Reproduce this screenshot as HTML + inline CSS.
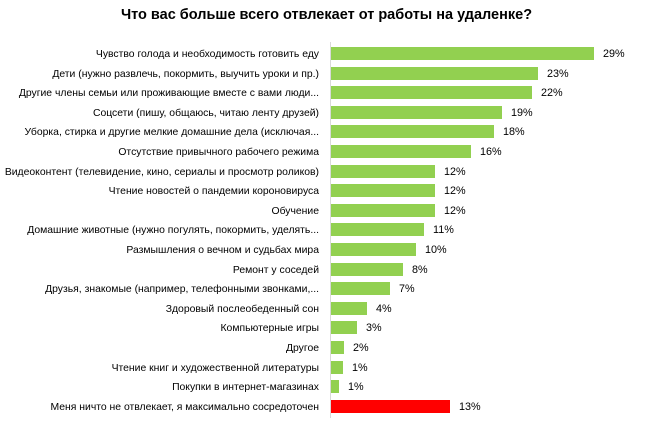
<!DOCTYPE html>
<html><head><meta charset="utf-8"><style>
body{margin:0;background:#fff;width:653px;height:426px;overflow:hidden;position:relative;font-family:"Liberation Sans","DejaVu Sans",sans-serif;}
.t{position:absolute;left:0;width:653px;top:7px;text-align:center;font-weight:bold;font-size:14.5px;color:#000}
.l{position:absolute;right:334px;font-size:10.4px;color:#000;white-space:nowrap;line-height:13px}
.b{position:absolute;left:331px;height:13px;background:#92d050}
.v{position:absolute;font-size:10.8px;color:#000;line-height:13px}
.ax{position:absolute;left:330px;top:42px;width:1px;height:376px;background:#d9d9d9}
</style></head><body>
<div class="t">Что вас больше всего отвлекает от работы на удаленке?</div>
<div class="ax"></div>
<div id="c"></div>
<script>
var d=[["Чувство голода и необходимость готовить еду",594,"29%"],
["Дети (нужно развлечь, покормить, выучить уроки и пр.)",538,"23%"],
["Другие члены семьи или проживающие вместе с вами люди...",532,"22%"],
["Соцсети (пишу, общаюсь, читаю ленту друзей)",502,"19%"],
["Уборка, стирка и другие мелкие домашние дела (исключая...",494,"18%"],
["Отсутствие привычного рабочего режима",471,"16%"],
["Видеоконтент (телевидение, кино, сериалы и просмотр роликов)",435,"12%"],
["Чтение новостей о пандемии короновируса",435,"12%"],
["Обучение",435,"12%"],
["Домашние животные (нужно погулять, покормить, уделять...",424,"11%"],
["Размышления о вечном и судьбах мира",416,"10%"],
["Ремонт у соседей",403,"8%"],
["Друзья, знакомые (например, телефонными звонками,...",390,"7%"],
["Здоровый послеобеденный сон",367,"4%"],
["Компьютерные игры",357,"3%"],
["Другое",344,"2%"],
["Чтение книг и художественной литературы",343,"1%"],
["Покупки в интернет-магазинах",339,"1%"],
["Меня ничто не отвлекает, я максимально сосредоточен",450,"13%"]];
var h="";
d.forEach(function(r,i){var y=47+i*19.6;
h+='<div class="l" style="top:'+(y+1)+'px">'+r[0]+'</div>';
h+='<div class="b" style="top:'+y+'px;width:'+(r[1]-331)+'px;'+(i==18?'background:#ff0000':'')+'"></div>';
h+='<div class="v" style="top:'+(y+1)+'px;left:'+(r[1]+9)+'px">'+r[2]+'</div>';});
document.getElementById("c").innerHTML=h;
</script>
</body></html>
